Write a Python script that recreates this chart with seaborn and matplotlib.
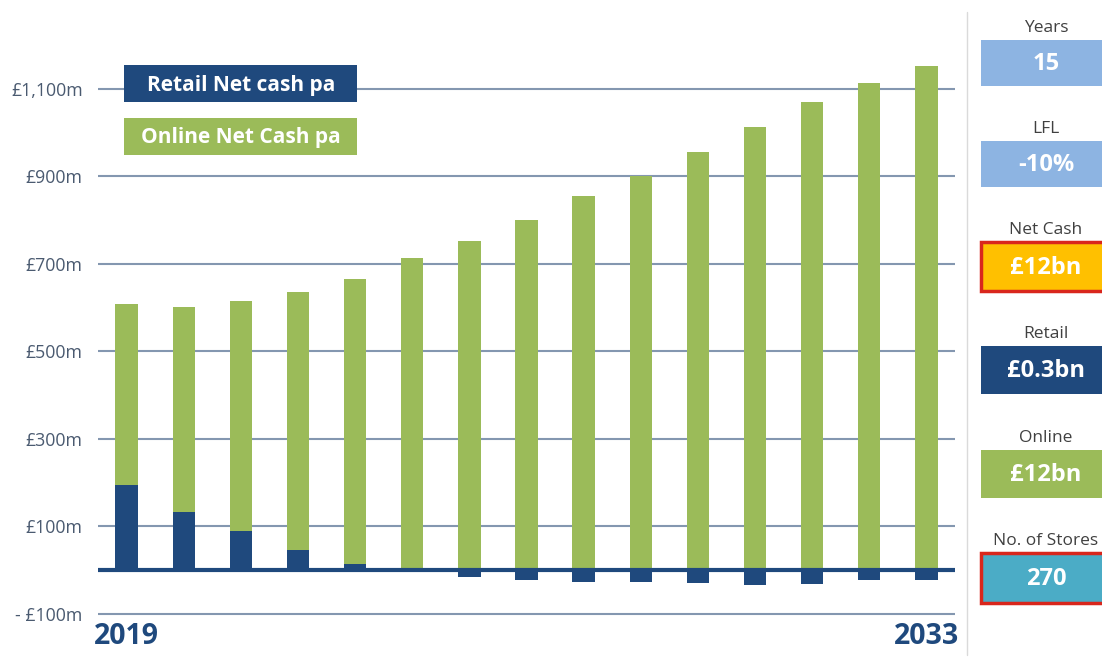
import numpy as np
import pandas as pd
import matplotlib
matplotlib.use("Agg")
import matplotlib.pyplot as plt
import matplotlib.transforms as mtransforms
from matplotlib.patches import Rectangle
from matplotlib.lines import Line2D
import seaborn as sns

# ---------------- data ----------------
years = [2019, 2020, 2021, 2022, 2023, 2024, 2025, 2026, 2027, 2028, 2029, 2030, 2031, 2032, 2033]
retail = [194, 133, 88, 46, 14, 0, -17, -24, -27, -27, -29, -34, -31, -24, -24]
online = [415, 467, 526, 590, 650, 712, 751, 801, 855, 901, 956, 1012, 1069, 1112, 1151]
ytick_values = [-100, 100, 300, 500, 700, 900, 1100]
ytick_labels = ["- £100m", "£100m", "£300m", "£500m", "£700m", "£900m", "£1,100m"]
legend_labels = ["Retail Net cash pa", "Online Net Cash pa"]
panel_labels = ["Years", "LFL", "Net Cash", "Retail", "Online", "No. of Stores"]
panel_values = ["15", "-10%", "£12bn", "£0.3bn", "£12bn", "270"]

# ---------------- style ----------------
BLUE = "#1F497D"
GREEN = "#9BBB59"
LIGHTBLUE = "#8DB4E2"
GOLD = "#FFC000"
TEAL = "#4BACC6"
RED = "#D9261C"
TICKCOL = "#4A5A70"
GRIDCOL = "#8497B0"
panel_colors = [LIGHTBLUE, LIGHTBLUE, GOLD, BLUE, GREEN, TEAL]
panel_edges = [None, None, RED, None, None, RED]

W, H = 1102, 659
sns.set_theme(style="white")
plt.rcParams['font.family'] = ['Open Sans', 'DejaVu Sans']

fig = plt.figure(figsize=(W / 100, H / 100), dpi=100)


def fx(px):
    return px / W


def fy(py):
    return 1 - py / H


ax = fig.add_axes([fx(98), fy(618.1), fx(955) - fx(98), 603.75 / H])

df = pd.DataFrame({"year": [str(y) for y in years], "retail": retail, "online": online})
df["stack_top"] = df["online"] + df["retail"].clip(lower=0)

sns.barplot(data=df, x="year", y="stack_top", color=GREEN, width=0.39, saturation=1,
            ax=ax, zorder=2, linewidth=0)
sns.barplot(data=df, x="year", y="retail", color=BLUE, width=0.39, saturation=1,
            ax=ax, zorder=3, linewidth=0)

ax.set_xlim(-0.5, len(years) - 0.5)
ax.set_ylim(-110, 1270)
ax.set_yticks(ytick_values)
ax.set_yticklabels(ytick_labels)
ax.set_xticks([])
ax.set_xlabel("")
ax.set_ylabel("")
ax.set_axisbelow(True)
ax.yaxis.grid(True, color=GRIDCOL, lw=1.5)
ax.xaxis.grid(False)
ax.axhline(0, color=BLUE, lw=3, zorder=4)
ax.tick_params(axis="y", length=0, pad=11, labelsize=12.8, labelcolor=TICKCOL)
for s in ax.spines.values():
    s.set_visible(False)
ax.patch.set_alpha(0)

# year labels at both ends
trans = mtransforms.blended_transform_factory(ax.transData, fig.transFigure)
for i in (0, len(years) - 1):
    ax.text(i, fy(636), str(years[i]), ha="center", va="center", fontsize=20.5,
            fontweight="bold", color=BLUE, transform=trans, clip_on=False)

# legend boxes
leg_colors = [BLUE, GREEN]
leg_tops = [65, 118]
for lab, col, top in zip(legend_labels, leg_colors, leg_tops):
    fig.patches.append(Rectangle((fx(124), fy(top + 37)), fx(357) - fx(124), 37 / H,
                                 transform=fig.transFigure, facecolor=col, edgecolor="none"))
    fig.text(fx(241), fy(top + 20), lab, ha="center", va="center", fontsize=15,
             fontweight="bold", color="white")

# right panel
fig.add_artist(Line2D([fx(967), fx(967)], [fy(12), fy(655)], color="#DADADA", lw=1,
                      transform=fig.transFigure))
box_tops = [40, 141, 242, 346, 450, 553]
box_heights = [46, 46, 49, 48, 48, 50]
for lab, val, col, edge, top, h in zip(panel_labels, panel_values, panel_colors,
                                        panel_edges, box_tops, box_heights):
    fig.patches.append(Rectangle((fx(981), fy(top + h)), fx(1115) - fx(981), h / H,
                                 transform=fig.transFigure, facecolor=col,
                                 edgecolor=edge if edge else "none",
                                 linewidth=2.5 if edge else 0))
    fig.text(fx(1046), fy(top - 12), lab, ha="center", va="center", fontsize=12.5,
             color="#404040")
    fig.text(fx(1046), fy(top + h / 2 + 1), val, ha="center", va="center", fontsize=17,
             fontweight="bold", color="white")

fig.savefig("out.png", dpi=100)
